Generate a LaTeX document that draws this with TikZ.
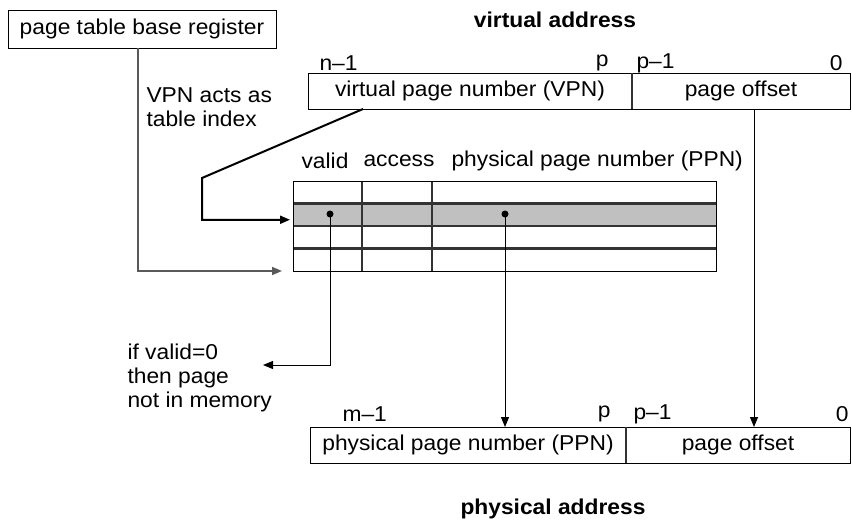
\documentclass[tikz,border=0pt]{standalone}
\usepackage{fontspec}
\setmainfont[FakeStretch=1.06]{Liberation Sans}
\usepackage{tikz}
\usetikzlibrary{arrows.meta, calc}
\tikzset{>={Triangle[width=8pt,length=10pt]}}
\definecolor{rowgray}{RGB}{192,192,192}

\begin{document}
\begin{tikzpicture}[
    x = 1pt, y = -1pt,
    font = \fontsize{21.5}{24}\selectfont,
    field/.style = {draw, line width=1pt, minimum height=36pt,
        inner sep = 0pt, outer sep = 0pt},
    cell/.style = {draw, line width=0.8pt, minimum height=22.5pt,
        inner sep = 0pt, outer sep = 0pt},
    grid/.style = {line width=2.2pt, draw=black!80},
    link/.style = {->, line width=1pt},
    title/.style = {font=\fontsize{21.5}{24}\selectfont\bfseries}
  ]
  \useasboundingbox (0,0) rectangle (852,522);

  % virtual address
  \node[title] (vtitle) at (555,20) {virtual address};
  \node[field, minimum width=324pt] (vpn) at (470,91) {virtual page number (VPN)};
  \node[field, minimum width=218pt] (voff) at (741,91) {page offset};
  \draw[grid] (vpn.north east) -- (vpn.south east);
  \node[anchor=west] (vn) at (316,63) {n–1};
  \node[anchor=east] (vp) at (612,63) {p};
  \node[anchor=west] (vp1) at (633,63) {p–1};
  \node[anchor=east] (v0) at (846,63) {0};

  \node[field, minimum width=268pt, minimum height=38pt] (ptbr) at (142,29) {page table base register};
  \node[anchor=west, align=left] (index) at (143,107) {VPN acts as\\table index};

  % page table
  \foreach \r/\yc/\shade in {1/192.25/white, 2/214.75/rowgray, 3/237.25/white, 4/259.75/white} {
    \node[cell, fill=\shade, minimum width=69pt] (t-\r-1) at (327.5,\yc) {};
    \node[cell, fill=\shade, minimum width=70pt] (t-\r-2) at (397,\yc) {};
    \node[cell, fill=\shade, minimum width=284pt] (t-\r-3) at (574,\yc) {};
  }
  \foreach \r in {1,2,3}
    \draw[grid] (t-\r-1.south west) -- (t-\r-3.south east);
  \foreach \c in {1,2}
    \draw[grid] (t-1-\c.north east) -- (t-4-\c.south east);
  \draw[line width=1pt] (t-1-1.north west) rectangle (t-4-3.south east);

  \node (hvalid) at (325,161) {valid};
  \node (haccess) at (399,161) {access};
  \node[anchor=west] (hppn) at (448,161) {physical page number (PPN)};

  \coordinate (vdot) at (330,214);
  \coordinate (pdot) at (505,214);
  \fill (vdot) circle (3.5pt);
  \fill (pdot) circle (3.5pt);

  % physical address
  \node[field, minimum width=316pt] (ppn) at (468,445) {physical page number (PPN)};
  \node[field, minimum width=224pt] (poff) at (738,445) {page offset};
  \draw[grid] (ppn.north east) -- (ppn.south east);
  \node[anchor=west] (pm) at (339,414) {m–1};
  \node[anchor=east] (pp) at (614,414) {p};
  \node[anchor=west] (pp1) at (630,414) {p–1};
  \node[anchor=east] (p0) at (852,414) {0};
  \node[title] (ptitle) at (553,509) {physical address};

  \node[anchor=west, align=left] (miss) at (124,378) {if valid=0\\then page\\not in memory};

  % connectors
  \coordinate (kink) at (202,178);
  \coordinate (offx) at (754,0);
  \coordinate (missend) at (263,365);
  \draw[->, line width=1.5pt, draw=black!65]
    ([xshift=-4pt]ptbr.south) |- ([xshift=-11pt]t-4-1.south west);
  \draw[->, line width=2pt]
    ([xshift=55pt]vpn.south west) -- (kink) |- ([xshift=-3pt,yshift=-5pt]t-2-1.west);
  \draw[link] (voff.south -| offx) -- (poff.north -| offx);
  \draw[link] (pdot) -- (ppn.north -| pdot);
  \draw[link] (vdot) |- (missend);
\end{tikzpicture}
\end{document}
